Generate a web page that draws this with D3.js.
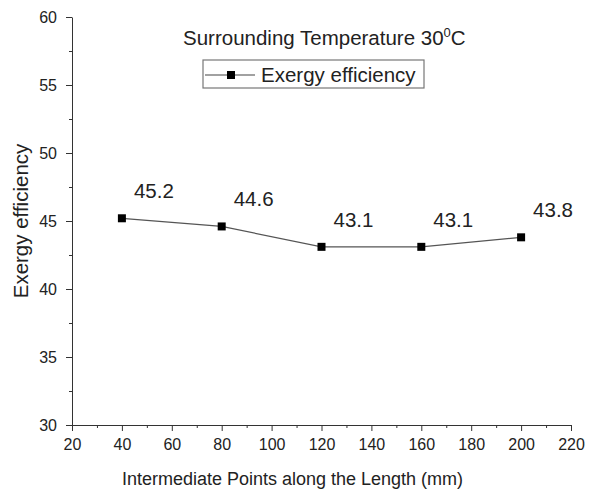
<!DOCTYPE html>
<html>
<head>
    <script src="https://d3js.org/d3.v7.min.js"></script>
    <style>
        body { margin: 0; background: #fff; }
        svg text { font-family: "Liberation Sans", Arial, sans-serif; fill: #222; }
    </style>
</head>
<body>
<div id="chart"></div>
<script>
    // Data
    const lengths = [40, 80, 120, 160, 200];
    const efficiency = [45.2, 44.6, 43.1, 43.1, 43.8];
    const xTicks = [20, 40, 60, 80, 100, 120, 140, 160, 180, 200, 220];
    const yTicks = [30, 35, 40, 45, 50, 55, 60];

    const W = 592, H = 492;
    const margin = {top: 17, right: 21, bottom: 67, left: 72};

    const svg = d3.select("#chart").append("svg")
        .attr("width", W)
        .attr("height", H);

    const x = d3.scaleLinear().domain([20, 220]).range([margin.left, W - margin.right]);
    const y = d3.scaleLinear().domain([30, 60]).range([H - margin.bottom, margin.top]);

    // minor ticks first, major on top
    svg.append("g")
        .attr("transform", `translate(0,${H - margin.bottom})`)
        .call(d3.axisBottom(x).tickValues(d3.range(30, 220, 20)).tickSize(3).tickFormat(""))
        .call(g => g.select(".domain").remove())
        .selectAll("line").attr("stroke", "#333");
    svg.append("g")
        .attr("transform", `translate(${margin.left},0)`)
        .call(d3.axisLeft(y).tickValues(d3.range(32.5, 60, 5)).tickSize(3).tickFormat(""))
        .call(g => g.select(".domain").remove())
        .selectAll("line").attr("stroke", "#333");

    const xAxis = svg.append("g")
        .attr("transform", `translate(0,${H - margin.bottom})`)
        .call(d3.axisBottom(x).tickValues(xTicks).tickSize(6).tickSizeOuter(0).tickPadding(8));
    xAxis.selectAll("text").attr("font-size", 16);

    const yAxis = svg.append("g")
        .attr("transform", `translate(${margin.left},0)`)
        .call(d3.axisLeft(y).tickValues(yTicks).tickSize(6).tickSizeOuter(0).tickPadding(9));
    yAxis.selectAll("text").attr("font-size", 16);

    svg.selectAll(".domain, .tick line").attr("stroke", "#333");

    // axis titles
    svg.append("text")
        .attr("x", (margin.left + W - margin.right) / 2 - 29)
        .attr("y", 485)
        .attr("text-anchor", "middle")
        .attr("font-size", 18)
        .text("Intermediate Points along the Length (mm)");

    svg.append("text")
        .attr("transform", `translate(28,${221}) rotate(-90)`)
        .attr("text-anchor", "middle")
        .attr("font-size", 20.5)
        .text("Exergy efficiency");

    // title
    const title = svg.append("text")
        .attr("x", 183)
        .attr("y", 45)
        .attr("font-size", 20.5);
    title.append("tspan").text("Surrounding Temperature 30");
    title.append("tspan").attr("font-size", 13).attr("dy", -8).text("0");
    title.append("tspan").attr("dy", 8).text("C");

    // legend
    const lg = svg.append("g").attr("transform", "translate(203,60)");
    lg.append("rect").attr("width", 221).attr("height", 28)
        .attr("fill", "#fff").attr("stroke", "#777").attr("stroke-width", 1.2);
    lg.append("line").attr("x1", 2).attr("x2", 52).attr("y1", 15).attr("y2", 15)
        .attr("stroke", "#444").attr("stroke-width", 1.2);
    lg.append("rect").attr("x", 24).attr("y", 11).attr("width", 8).attr("height", 8).attr("fill", "#000");
    lg.append("text").attr("x", 58).attr("y", 22).attr("font-size", 20.5).text("Exergy efficiency");

    const pts = lengths.map((l, i) => ({l, v: efficiency[i]}));

    svg.append("path")
        .datum(pts)
        .attr("d", d3.line().x(d => x(d.l)).y(d => y(d.v)))
        .attr("fill", "none")
        .attr("stroke", "#555")
        .attr("stroke-width", 1.2);

    svg.selectAll("rect.pt")
        .data(pts)
        .join("rect")
        .attr("class", "pt")
        .attr("x", d => x(d.l) - 4)
        .attr("y", d => y(d.v) - 4)
        .attr("width", 8)
        .attr("height", 8)
        .attr("fill", "#000");

    svg.selectAll("text.lbl")
        .data(pts)
        .join("text")
        .attr("class", "lbl")
        .attr("x", d => x(d.l) + 12)
        .attr("y", d => y(d.v) - 20)
        .attr("font-size", 20.5)
        .text(d => d.v.toFixed(1));
</script>
</body>
</html>
